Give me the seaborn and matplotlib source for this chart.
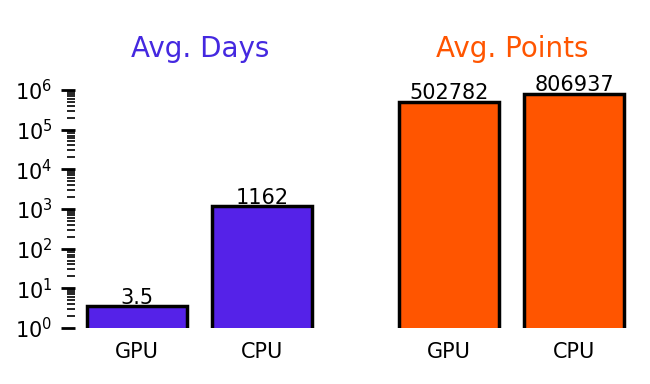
import matplotlib
matplotlib.use("Agg")
import matplotlib.pyplot as plt
from matplotlib.ticker import LogLocator, NullFormatter
import seaborn as sns

# chart values
devices = ["GPU", "CPU"]
avg_days = [3.5, 1162]
avg_points = [502782, 806937]
day_labels = ["3.5", "1162"]
point_labels = ["502782", "806937"]

blue = "#5522E8"
title_blue = "#4428E0"
orange = "#FF5500"

sns.set_theme(style="white")
plt.rcParams["font.family"] = ["DejaVu Sans"]
plt.rcParams["text.color"] = "black"
plt.rcParams["xtick.color"] = "black"
plt.rcParams["ytick.color"] = "black"

fig = plt.figure(figsize=(6.5, 3.84), dpi=100)
ax1 = fig.add_axes([0.115, 0.146, 0.385, 0.620])
ax2 = fig.add_axes([0.595, 0.146, 0.385, 0.620])

sns.barplot(x=devices, y=avg_days, color=blue, saturation=1, edgecolor="black",
            linewidth=2.5, width=0.8, ax=ax1)
sns.barplot(x=devices, y=avg_points, color=orange, saturation=1, edgecolor="black",
            linewidth=2.5, width=0.8, ax=ax2)

ax1.bar_label(ax1.containers[0], labels=day_labels, fontsize=15, padding=-1, color="black")
ax2.bar_label(ax2.containers[0], labels=point_labels, fontsize=15, padding=-1, color="black")

for ax, title, col in [(ax1, "Avg. Days", title_blue), (ax2, "Avg. Points", orange)]:
    ax.set_yscale("log")
    ax.set_ylim(1, 1e6)
    ax.set_xlim(-0.5, 1.5)
    ax.set_title(title, color=col, fontsize=20, pad=24)
    for s in ax.spines.values():
        s.set_visible(False)
    ax.tick_params(axis="x", length=0, labelsize=15, pad=10)
    ax.set_xlabel("")
    ax.set_ylabel("")

ax1.yaxis.set_major_locator(LogLocator(base=10, numticks=12))
ax1.yaxis.set_minor_locator(LogLocator(base=10, subs=range(2, 10), numticks=12))
ax1.yaxis.set_minor_formatter(NullFormatter())
ax1.tick_params(axis="y", which="major", left=True, length=10, width=2,
                labelsize=15, direction="out", pad=6)
ax1.tick_params(axis="y", which="minor", left=True, length=6, width=1.2,
                direction="out")
ax2.tick_params(axis="y", which="both", left=False, labelleft=False)

fig.savefig("out.png", dpi=100)
